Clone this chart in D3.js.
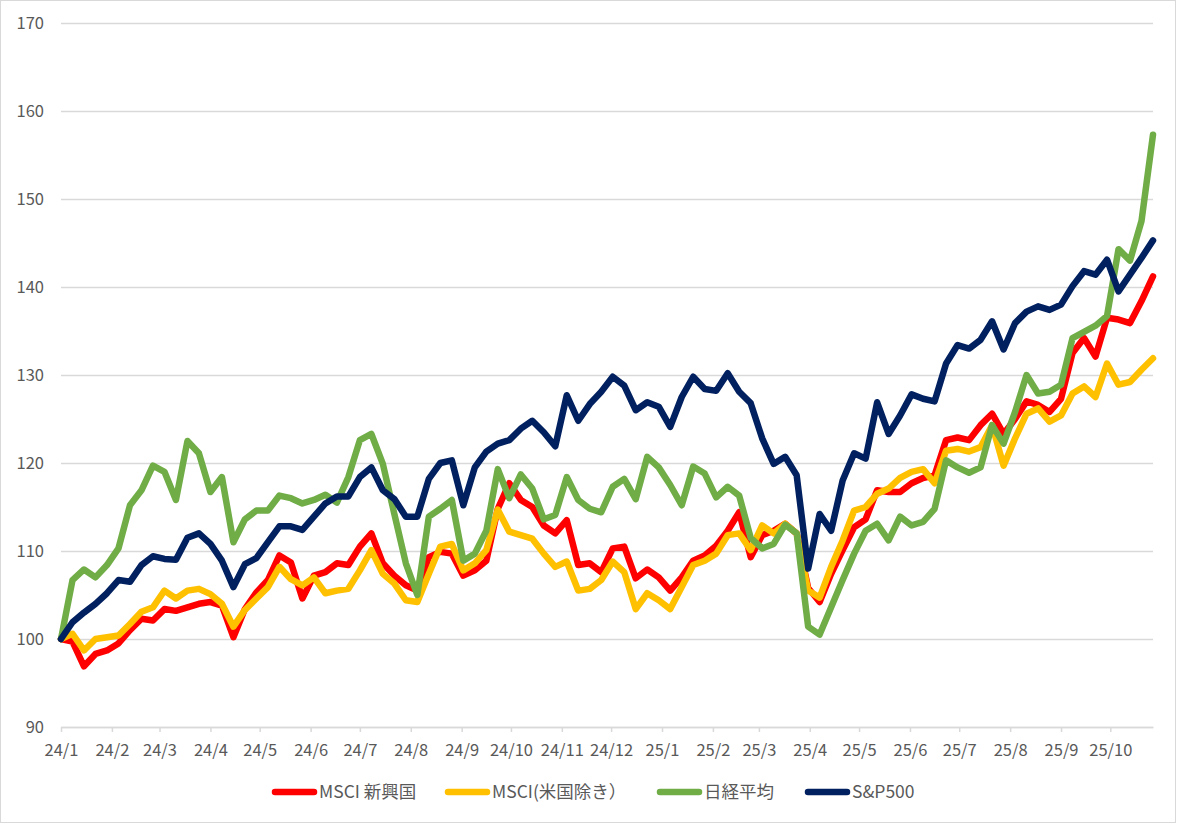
<!DOCTYPE html>
<html lang="ja">
<head>
    <meta charset="UTF-8">
    <title>Index chart</title>
    <script src="https://d3js.org/d3.v7.min.js"></script>
    <style>
        body {
            margin: 0;
            background: #fff;
        }

        #chart-wrapper {
            width: 1178px;
            height: 824px;
        }

        text {
            font-family: "Noto Sans CJK JP", "Noto Sans", sans-serif;
            fill: #595959;
        }
    </style>
</head>

<body>
    <div id="chart-wrapper"></div>

    <script>
        // weekly index values, 2024/1 = 100
        const startDate = new Date(2024, 0, 1)

        const msciEm = [
            100.0, 99.7, 96.9, 98.3, 98.7, 99.5, 101.0, 102.3, 102.1, 103.4,
            103.2, 103.6, 104.0, 104.2, 103.8, 100.2, 103.4, 105.3, 106.7, 109.5,
            108.7, 104.6, 107.2, 107.6, 108.6, 108.4, 110.5, 112.0, 108.6, 107.2,
            106.1, 105.5, 109.3, 109.9, 109.7, 107.2, 107.8, 108.9, 114.8, 117.7,
            115.8, 115.0, 112.9, 112.0, 113.5, 108.4, 108.6, 107.6, 110.3, 110.5,
            106.9, 107.9, 107.0, 105.5, 107.0, 108.9, 109.5, 110.6, 112.3, 114.4,
            109.3, 111.8, 112.3, 113.1, 112.0, 105.8, 104.2, 107.4, 110.1, 112.7,
            113.6, 116.9, 116.7, 116.7, 117.7, 118.3, 118.6, 122.6, 122.9, 122.6,
            124.3, 125.6, 123.3, 125.0, 127.0, 126.6, 125.8, 127.3, 132.5, 134.2,
            132.1, 136.5, 136.3, 135.9, 138.4, 141.2
        ]

        const msciExUs = [
            100.0, 100.6, 98.7, 100.0, 100.2, 100.4, 101.7, 103.1, 103.6, 105.5,
            104.6, 105.5, 105.7, 105.1, 104.0, 101.4, 103.3, 104.6, 105.9, 108.2,
            106.8, 106.1, 107.0, 105.2, 105.5, 105.7, 107.8, 110.1, 107.4, 106.3,
            104.4, 104.2, 107.4, 110.5, 110.8, 107.8, 108.6, 110.1, 114.7, 112.2,
            111.8, 111.4, 109.7, 108.2, 108.8, 105.5, 105.7, 106.7, 108.8, 107.6,
            103.4, 105.2, 104.4, 103.4, 105.9, 108.4, 108.9, 109.7, 111.8, 112.0,
            110.1, 112.9, 112.0, 113.1, 112.0, 105.5, 104.7, 108.2, 111.2, 114.6,
            115.0, 116.5, 117.1, 118.3, 119.0, 119.3, 117.7, 121.4, 121.6, 121.3,
            121.8, 124.3, 119.7, 122.8, 125.6, 126.2, 124.7, 125.4, 127.9, 128.7,
            127.5, 131.3, 128.9, 129.2, 130.6, 131.9
        ]

        const nikkei = [
            100.0, 106.7, 107.9, 107.0, 108.4, 110.3, 115.2, 116.9, 119.7, 119.0,
            115.8, 122.5, 121.1, 116.7, 118.4, 111.0, 113.6, 114.6, 114.6, 116.3,
            116.0, 115.4, 115.8, 116.4, 115.5, 118.4, 122.6, 123.3, 119.9, 114.2,
            108.6, 105.0, 113.9, 114.8, 115.8, 108.9, 109.7, 112.3, 119.3, 116.0,
            118.7, 117.1, 113.6, 114.1, 118.4, 115.8, 114.8, 114.4, 117.3, 118.2,
            115.9, 120.7, 119.5, 117.5, 115.2, 119.6, 118.8, 116.1, 117.3, 116.3,
            111.5, 110.3, 110.8, 113.0, 112.0, 101.4, 100.5, 103.6, 106.7, 109.7,
            112.3, 113.1, 111.2, 113.9, 112.9, 113.3, 114.8, 120.3, 119.5, 118.9,
            119.5, 124.3, 122.2, 125.8, 130.0, 127.9, 128.1, 128.9, 134.2, 134.9,
            135.6, 136.7, 144.3, 143.0, 147.5, 157.3
        ]

        const sp500 = [
            100.0, 101.9, 103.0, 104.0, 105.2, 106.7, 106.5, 108.4, 109.4, 109.1,
            109.0, 111.5, 112.0, 110.8, 108.9, 105.9, 108.5, 109.2, 111.0, 112.8,
            112.8, 112.4, 113.9, 115.4, 116.2, 116.2, 118.4, 119.5, 116.9, 115.9,
            113.9, 113.9, 118.2, 120.0, 120.3, 115.2, 119.5, 121.3, 122.2, 122.6,
            123.9, 124.8, 123.5, 121.9, 127.7, 124.8, 126.7, 128.1, 129.8, 128.8,
            126.0, 126.9, 126.4, 124.1, 127.5, 129.8, 128.4, 128.2, 130.2, 128.1,
            126.8, 122.8, 119.9, 120.7, 118.6, 108.0, 114.2, 112.3, 118.0, 121.1,
            120.5, 126.9, 123.3, 125.4, 127.8, 127.3, 127.0, 131.3, 133.4, 133.0,
            134.0, 136.1, 132.9, 135.9, 137.2, 137.8, 137.4, 138.0, 140.1, 141.8,
            141.4, 143.1, 139.5, 141.4, 143.3, 145.3
        ]

        const seriesNames = ['MSCI 新興国', 'MSCI(米国除き）', '日経平均', 'S&P500']
        const seriesColors = ['#ff0000', '#ffc000', '#70ad47', '#002060']
        const yTicks = [90, 100, 110, 120, 130, 140, 150, 160, 170]

        const width = 1178
        const height = 824
        const margin = {
            top: 23,
            right: 25,
            bottom: 97,
            left: 61
        }

        const dates = msciEm.map((d, i) => d3.timeDay.offset(startDate, i * 7))
        const series = [msciEm, msciExUs, nikkei, sp500].map((values, k) => ({
            name: seriesNames[k],
            color: seriesColors[k],
            values: values.map((v, i) => ({ date: dates[i], value: v }))
        }))

        const svg = d3.select('#chart-wrapper')
            .append('svg')
            .attr('width', width)
            .attr('height', height)

        svg.append('rect')
            .attr('x', 0.5)
            .attr('y', 0.5)
            .attr('width', width - 3)
            .attr('height', height - 2)
            .attr('fill', '#fff')
            .attr('stroke', '#d9d9d9')

        const xScale = d3.scaleTime()
            .domain(d3.extent(dates))
            .range([margin.left, width - margin.right])

        const yScale = d3.scaleLinear()
            .domain([90, 170])
            .range([height - margin.bottom, margin.top])

        drawGrid()
        drawAxis()
        drawLines()
        drawLegend()

        function drawGrid() {
            const yAxis = d3.axisLeft(yScale)
                .tickValues(yTicks)
                .tickSize(-(width - margin.left - margin.right))
                .tickPadding(17)

            const g = svg.append('g')
                .attr('transform', `translate(${margin.left}, 0)`)
                .call(yAxis)
            g.select('.domain').remove()
            g.selectAll('.tick line')
                .attr('stroke', '#d9d9d9')
                .attr('stroke-width', 1.5)
            g.selectAll('.tick text')
                .style('font-size', '16.5px')
        }

        function drawAxis() {
            const months = d3.timeMonth.range(startDate, d3.max(dates))
            const xAxis = d3.axisBottom(xScale)
                .tickValues(months)
                .tickFormat(d3.timeFormat('%y/%-m'))
                .tickSize(5)
                .tickSizeOuter(0)
                .tickPadding(12)

            const g = svg.append('g')
                .attr('transform', `translate(0, ${height - margin.bottom})`)
                .call(xAxis)
            g.select('.domain')
                .attr('stroke', '#d9d9d9')
                .attr('stroke-width', 1.5)
            g.selectAll('.tick line')
                .attr('stroke', '#d9d9d9')
                .attr('stroke-width', 1.5)
            g.selectAll('.tick text')
                .style('font-size', '16.5px')
        }

        function drawLines() {
            const line = d3.line()
                .x(d => xScale(d.date))
                .y(d => yScale(d.value))

            svg.append('g')
                .attr('class', 'line-wrapper')
                .selectAll('path')
                .data(series)
                .join('path')
                .attr('fill', 'none')
                .attr('stroke', d => d.color)
                .attr('stroke-width', 6.5)
                .attr('stroke-linejoin', 'round')
                .attr('stroke-linecap', 'round')
                .attr('d', d => line(d.values))
        }

        function drawLegend() {
            const legendX = [272, 445, 657, 805]
            const legendY = 792

            const items = svg.append('g')
                .attr('class', 'legend')
                .selectAll('g')
                .data(series)
                .join('g')
                .attr('transform', (d, i) => `translate(${legendX[i]}, ${legendY})`)

            items.append('line')
                .attr('x1', 3)
                .attr('x2', 42)
                .attr('stroke', d => d.color)
                .attr('stroke-width', 6.5)
                .attr('stroke-linecap', 'round')

            items.append('text')
                .attr('x', 47)
                .attr('dy', '0.35em')
                .style('font-size', '17.5px')
                .text(d => d.name)
        }
    </script>
</body>
</html>
